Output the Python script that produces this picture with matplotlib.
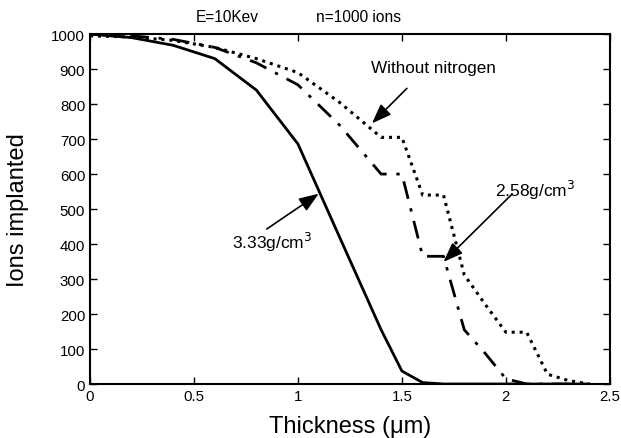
import matplotlib
matplotlib.use('Agg')
from matplotlib import pyplot as plt

plt.rcParams['font.family'] = ['Liberation Sans', 'DejaVu Sans']

# thickness in um
thickness = [0, 0.2, 0.4, 0.6, 0.8, 1.0, 1.2, 1.4, 1.5, 1.6, 1.7, 1.8, 1.9, 2.0, 2.1, 2.2, 2.3, 2.4]
dense_333 = [1000, 990, 968, 930, 840, 686, 420, 155, 37, 4, 0, 0, 0, 0, 0, 0, 0, 0]
dense_258 = [1000, 995, 985, 962, 918, 855, 740, 600, 600, 365, 365, 155, 88, 15, 0, 0, 0, 0]
no_nitrogen = [995, 992, 982, 962, 930, 890, 805, 705, 705, 540, 540, 312, 228, 148, 148, 28, 10, 0]

fig = plt.figure(figsize=(6.21, 4.39), dpi=100)
ax = fig.add_axes([0.145, 0.123, 0.837, 0.797])

ax.plot(thickness, dense_333, color='black', lw=2, ls='-')
ax.plot(thickness, dense_258, color='black', lw=2, dashes=(6.5, 3.5, 1.2, 3.5))
ax.plot(thickness, no_nitrogen, color='black', lw=2.2, dashes=(1, 1.6))

ax.set_xlim(0, 2.5)
ax.set_ylim(0, 1000)
ax.set_xticks([0, 0.5, 1, 1.5, 2, 2.5])
ax.set_xticklabels(['0', '0.5', '1', '1.5', '2', '2.5'])
ax.set_yticks(range(0, 1001, 100))
ax.tick_params(direction='in', top=True, right=True, labelsize=10.8, length=5, width=1)
for s in ax.spines.values():
    s.set_linewidth(1.5)

ax.set_xlabel('Thickness (\u03bcm)', fontsize=17, labelpad=9)
ax.set_ylabel('Ions implanted', fontsize=17, labelpad=16)

fig.text(0.366, 0.961, 'E=10Kev', ha='center', va='center', fontsize=11.2)
fig.text(0.578, 0.961, 'n=1000 ions', ha='center', va='center', fontsize=11.2)

arrow = dict(arrowstyle='-|>,head_length=1.2,head_width=0.45', color='black', lw=1.2, shrinkA=0, shrinkB=0)
ax.annotate('', xy=(1.356, 745), xytext=(1.524, 845), arrowprops=arrow)
ax.text(1.65, 906, 'Without nitrogen', ha='center', va='center', fontsize=12.3)
ax.annotate('', xy=(1.10, 544), xytext=(0.85, 443), arrowprops=arrow)
ax.text(0.875, 408, '3.33g/cm$^3$', ha='center', va='center', fontsize=12.5)
ax.annotate('', xy=(1.70, 349), xytext=(2.03, 543), arrowprops=arrow)
ax.text(2.14, 557, '2.58g/cm$^3$', ha='center', va='center', fontsize=12.5)

plt.savefig('out.png', dpi=100)
